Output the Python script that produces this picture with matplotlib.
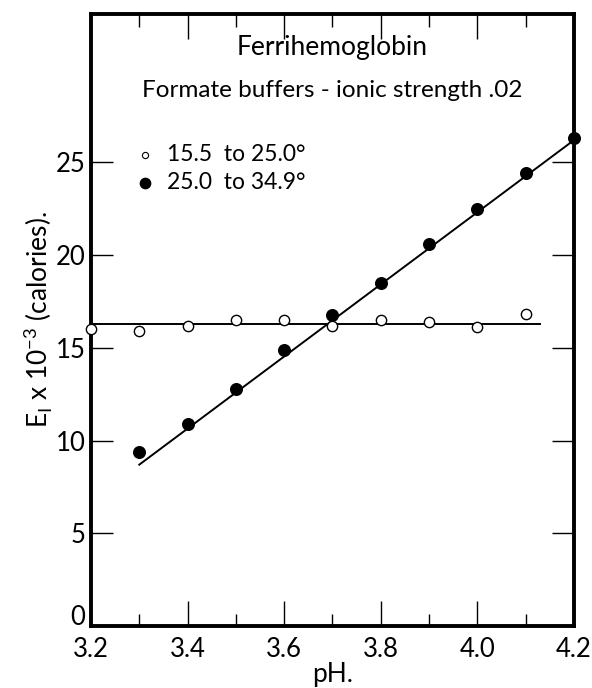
import matplotlib
matplotlib.use("Agg")
import matplotlib.pyplot as plt
import matplotlib.transforms as mtransforms
from matplotlib.ticker import MultipleLocator

# data
ph_open = [3.2, 3.3, 3.4, 3.5, 3.6, 3.7, 3.8, 3.9, 4.0, 4.1]
e_open = [16.0, 15.9, 16.15, 16.5, 16.5, 16.15, 16.5, 16.4, 16.1, 16.8]
ph_filled = [3.3, 3.4, 3.5, 3.6, 3.7, 3.8, 3.9, 4.0, 4.1, 4.2]
e_filled = [9.4, 10.9, 12.8, 14.9, 16.75, 18.5, 20.6, 22.5, 24.4, 26.3]

# fitted lines (end points)
fit_open_x = [3.2, 4.13]
fit_open_y = [16.3, 16.3]
fit_filled_x = [3.3, 4.2]
fit_filled_y = [8.7, 26.2]

x_ticks = [3.2, 3.4, 3.6, 3.8, 4.0, 4.2]
x_tick_labels = ["3.2", "3.4", "3.6", "3.8", "4.0", "4.2"]
y_ticks = [0, 5, 10, 15, 20, 25]

plt.rcParams["font.family"] = ["Lato", "DejaVu Sans"]

fig = plt.figure(figsize=(5.92, 6.88), dpi=100)
ax = fig.add_axes([0.1537, 0.0901, 0.8159, 0.8896])

ax.plot(fit_open_x, fit_open_y, color="black", lw=1.4, zorder=2)
ax.plot(fit_filled_x, fit_filled_y, color="black", lw=1.4, zorder=2)
ax.scatter(ph_open, e_open, s=55, facecolors="white", edgecolors="black",
           linewidths=1.0, zorder=3, clip_on=False)
ax.scatter(ph_filled, e_filled, s=70, color="black", zorder=3, clip_on=False)

ax.set_xlim(3.2, 4.2)
ax.set_ylim(0, 33)

ax.set_xticks(x_ticks)
ax.set_xticklabels(x_tick_labels)
ax.xaxis.set_minor_locator(MultipleLocator(0.1))
ax.set_yticks(y_ticks)

ax.tick_params(axis="both", which="major", direction="in", length=18,
               width=1.0, labelsize=18.5, pad=4, top=True, right=True)
ax.tick_params(axis="x", which="major", pad=8)
ax.tick_params(axis="x", which="minor", direction="in", length=9,
               width=1.0, top=True)
ax.tick_params(axis="y", which="major", length=16)

# the "0" label sits a little above the bottom axis in the original
zero_lab = ax.get_yticklabels()[0]
zero_lab.set_transform(zero_lab.get_transform() + mtransforms.ScaledTranslation(
    0, 8 / 72, fig.dpi_scale_trans))

for sp in ax.spines.values():
    sp.set_linewidth(2.8)

ax.set_xlabel("pH.", fontsize=19, labelpad=0)
ax.set_ylabel(r"E$_\mathregular{I}$ x 10$^\mathregular{-3}$ (calories).",
              fontsize=19, labelpad=1)

ax.text(3.7, 31.2, "Ferrihemoglobin", ha="center", va="center", fontsize=19)
ax.text(3.7, 28.9, "Formate buffers - ionic strength .02", ha="center",
        va="center", fontsize=17.5)

# legend drawn as text + markers
ax.scatter([3.312], [25.4], s=20, facecolors="white", edgecolors="black",
           linewidths=0.8, zorder=3)
ax.scatter([3.312], [23.9], s=55, color="black", zorder=3)
ax.text(3.357, 25.4, "15.5  to 25.0°", va="center", fontsize=16.5)
ax.text(3.357, 23.9, "25.0  to 34.9°", va="center", fontsize=16.5)

fig.savefig("out.png", dpi=100)
